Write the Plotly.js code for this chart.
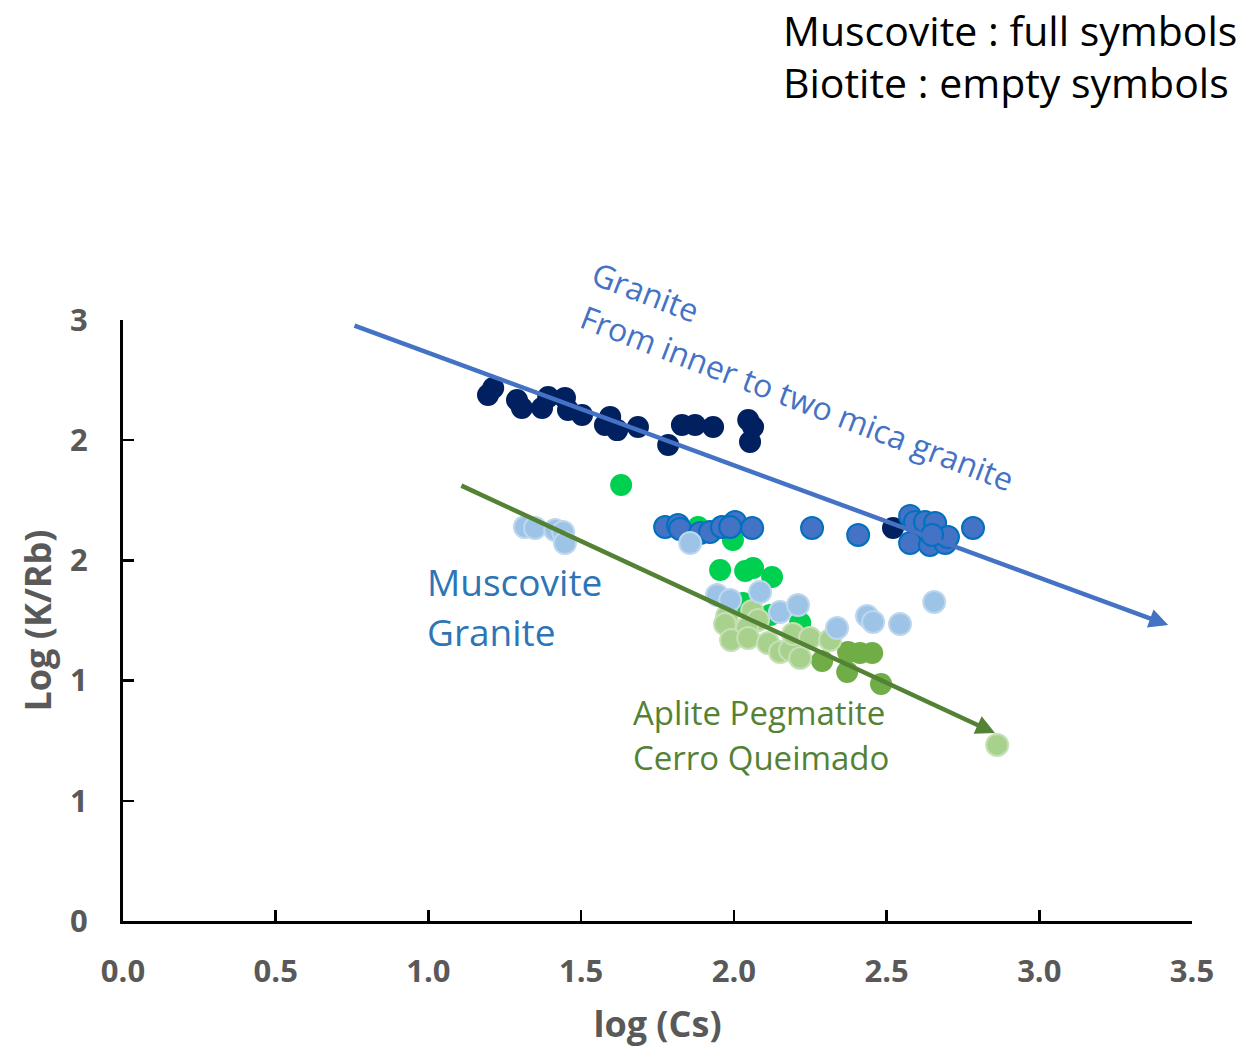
<!DOCTYPE html>
<html>
<head>
<meta charset="utf-8">
<script src="https://cdn.plot.ly/plotly-3.0.1.min.js"></script>
<style>
  html, body { margin: 0; padding: 0; background: #ffffff; }
  #chart { width: 1255px; height: 1051px; }
</style>
</head>
<body>
<div id="chart"></div>
<script>
// log(Cs) vs log(K/Rb) for micas of the granite and the Cerro Queimado aplite-pegmatite

// Inner granite, muscovite
const innerGraniteMsX = [1.195, 1.212, 1.290, 1.306, 1.372, 1.392, 1.447, 1.457, 1.503, 1.595, 1.578, 1.618, 1.686, 1.785, 1.830, 1.873, 1.932, 2.047, 2.063, 2.053, 2.521];
const innerGraniteMsY = [2.188, 2.217, 2.167, 2.134, 2.134, 2.180, 2.176, 2.126, 2.105, 2.097, 2.063, 2.042, 2.055, 1.980, 2.063, 2.063, 2.055, 2.084, 2.055, 1.993, 1.635];

// Two-mica granite, muscovite
const twoMicaMsX = [1.775, 1.817, 1.824, 1.889, 1.922, 1.961, 2.004, 1.988, 2.060, 2.256, 2.407, 2.577, 2.593, 2.626, 2.659, 2.577, 2.642, 2.692, 2.701, 2.649, 2.783];
const twoMicaMsY = [1.639, 1.647, 1.631, 1.614, 1.618, 1.639, 1.660, 1.639, 1.635, 1.635, 1.606, 1.685, 1.660, 1.660, 1.656, 1.572, 1.564, 1.572, 1.597, 1.606, 1.635];

// Granite, biotite
const graniteBtX = [1.316, 1.349, 1.415, 1.441, 1.447, 1.857, 1.945, 1.988, 2.086, 2.151, 2.210, 2.338, 2.436, 2.456, 2.544, 2.656];
const graniteBtY = [1.639, 1.635, 1.626, 1.618, 1.572, 1.572, 1.356, 1.335, 1.369, 1.285, 1.314, 1.219, 1.269, 1.244, 1.235, 1.327];

// Aplite, muscovite
const apliteMsX = [1.631, 1.883, 1.997, 1.955, 2.037, 2.063, 2.125, 2.030, 2.119, 2.217];
const apliteMsY = [1.814, 1.639, 1.585, 1.460, 1.456, 1.468, 1.431, 1.323, 1.273, 1.240];

// Pegmatite, muscovite
const pegmatiteMsX = [2.289, 2.374, 2.413, 2.453, 2.371, 2.482];
const pegmatiteMsY = [1.082, 1.119, 1.115, 1.115, 1.036, 0.986];

// Aplite-pegmatite, biotite
const pegmatiteBtX = [1.978, 1.971, 2.060, 2.079, 2.043, 1.991, 2.047, 2.112, 2.151, 2.184, 2.194, 2.217, 2.249, 2.315, 2.862];
const pegmatiteBtY = [1.269, 1.235, 1.290, 1.252, 1.219, 1.169, 1.177, 1.156, 1.119, 1.127, 1.194, 1.094, 1.177, 1.169, 0.732];

// Trend arrows (tail, head)
const graniteTrendX = [0.753, 3.422];
const graniteTrendY = [2.479, 1.231];
const pegmatiteTrendX = [1.103, 2.855];
const pegmatiteTrendY = [1.814, 0.782];

// Axis ticks
const xTickVals = [0, 0.5, 1, 1.5, 2, 2.5, 3, 3.5];
const xTickText = ['0.0', '0.5', '1.0', '1.5', '2.0', '2.5', '3.0', '3.5'];
const yTickVals = [0, 0.5, 1, 1.5, 2, 2.5];
const yTickText = ['0', '1', '1', '2', '2', '3'];

const MARKER_SIZE = 22;

function pts(name, x, y, fill, outline, lw) {
  return {
    type: 'scatter', mode: 'markers', name: name, x: x, y: y,
    hoverinfo: 'skip', cliponaxis: false,
    marker: { size: MARKER_SIZE, color: fill, line: { color: outline, width: lw } }
  };
}

const traces = [
  pts('Aplite Ms', apliteMsX, apliteMsY, '#00D050', '#00D050', 0),
  pts('Pegmatite Ms', pegmatiteMsX, pegmatiteMsY, '#70AD47', '#70AD47', 0),
  pts('Inner granite Ms', innerGraniteMsX, innerGraniteMsY, '#002060', '#002060', 0),
  pts('Two-mica granite Ms', twoMicaMsX, twoMicaMsY, '#4472C4', '#0070C0', 2),
  pts('Pegmatite Bt', pegmatiteBtX, pegmatiteBtY, '#A9D18E', '#C5E0B4', 2),
  pts('Granite Bt', graniteBtX, graniteBtY, '#9DC3E6', '#BDD7EE', 2)
];

const tickFont = { family: 'Open Sans, sans-serif', size: 31, color: '#595959', weight: 'bold' };
const titleFont = { family: 'Open Sans, sans-serif', size: 36, color: '#595959', weight: 'bold' };
const textFamily = 'Open Sans, sans-serif';

function arrow(xs, ys, color) {
  return {
    xref: 'x', yref: 'y', axref: 'x', ayref: 'y',
    x: xs[1], y: ys[1], ax: xs[0], ay: ys[0],
    text: '', showarrow: true, arrowhead: 2, arrowsize: 0.85,
    arrowwidth: 4.5, arrowcolor: color, standoff: 0, startstandoff: 0
  };
}

function label(text, x, y, size, color, opts) {
  return Object.assign({
    xref: 'x', yref: 'y', x: x, y: y, text: text, showarrow: false,
    xanchor: 'left', yanchor: 'middle',
    font: { family: textFamily, size: size, color: color }
  }, opts || {});
}

const annotations = [
  arrow(graniteTrendX, graniteTrendY, '#4472C4'),
  arrow(pegmatiteTrendX, pegmatiteTrendY, '#548235'),
  label('Granite', 0.489, 1.0466, 32, '#4472C4', { xref: 'paper', yref: 'paper', xanchor: 'center', textangle: 21 }),
  label('From inner to two mica granite', 2.207, 2.176, 32, '#4472C4', { xanchor: 'center', textangle: 21 }),
  label('Muscovite', 0.989, 1.412, 37, '#2E75B6'),
  label('Granite', 0.989, 1.204, 37, '#2E75B6'),
  label('Aplite Pegmatite', 1.663, 0.866, 33, '#548235'),
  label('Cerro Queimado', 1.663, 0.680, 33, '#548235'),
  { xref: 'paper', yref: 'paper', x: 0.6155, y: 1.5324, xanchor: 'left', yanchor: 'top',
    text: 'Muscovite : full symbols', showarrow: false,
    font: { family: textFamily, size: 41, color: '#000000' } },
  { xref: 'paper', yref: 'paper', x: 0.6155, y: 1.396, xanchor: 'left', yanchor: 'middle',
    text: 'Biotite : empty symbols', showarrow: false,
    font: { family: textFamily, size: 41, color: '#000000' } }
];

const layout = {
  width: 1255, height: 1051,
  margin: { l: 123, r: 63, t: 320, b: 130, pad: 0 },
  paper_bgcolor: '#ffffff', plot_bgcolor: '#ffffff',
  showlegend: false,
  xaxis: {
    range: [0, 3.5], tickmode: 'array', tickvals: xTickVals, ticktext: xTickText,
    ticks: 'inside', ticklen: 11, tickwidth: 2.5, tickcolor: '#000000',
    showline: true, linecolor: '#000000', linewidth: 3,
    showgrid: false, zeroline: false, tickfont: tickFont, ticklabelstandoff: 21,
    title: { text: 'log (Cs)', font: titleFont, standoff: 22 }
  },
  yaxis: {
    range: [0, 2.5], tickmode: 'array', tickvals: yTickVals, ticktext: yTickText,
    ticks: 'inside', ticklen: 11, tickwidth: 2.5, tickcolor: '#000000',
    showline: true, linecolor: '#000000', linewidth: 3,
    showgrid: false, zeroline: false, tickfont: tickFont, ticklabelstandoff: 26,
    title: { text: 'Log (K/Rb)', font: titleFont, standoff: 8 }
  },
  annotations: annotations
};

Plotly.newPlot('chart', traces, layout, { staticPlot: true, displayModeBar: false });
</script>
</body>
</html>
